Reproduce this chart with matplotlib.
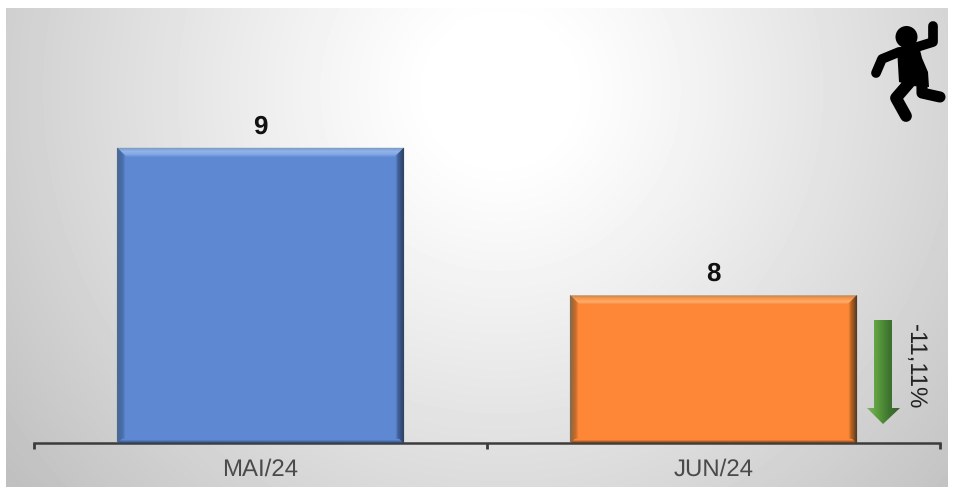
import numpy as np
import matplotlib
matplotlib.use('Agg')
import matplotlib.pyplot as plt
from matplotlib.colors import to_rgb, LinearSegmentedColormap
from matplotlib.patches import Polygon, Circle

plt.rcParams['font.family'] = ['Liberation Sans', 'DejaVu Sans']
plt.rcParams['text.hinting'] = 'none'
plt.rcParams['text.hinting_factor'] = 1

categories = ['MAI/24', 'JUN/24']
values = [9, 8]
variation_label = '-11,11%'
bar_colors = ['#5f88d2', '#fd8637']

W, H = 954, 492
fig = plt.figure(figsize=(W / 100, H / 100), dpi=100, facecolor='white')

# background panel, radial grey gradient
bg = fig.add_axes([0, 0, 1, 1], zorder=0)
xx, yy = np.meshgrid(np.arange(6, 948), np.arange(8, 487))
d = np.sqrt(((xx - 500) / 560) ** 2 + ((yy - 90) / 560) ** 2)
shade = 1 - 0.25 * np.clip(d - 0.12, 0, 1) ** 1.1
bg.imshow(shade, cmap='gray', vmin=0, vmax=1, extent=(6, 948, 487, 8), aspect='auto')
bg.set_xlim(0, W)
bg.set_ylim(H, 0)
bg.axis('off')

# the chart itself
ax = fig.add_axes([34 / W, 1 - 443 / H, 906 / W, 443 / H], zorder=1)
ax.patch.set_alpha(0)
x = np.arange(len(categories))
bars = ax.bar(x, values, width=0.633, color=bar_colors, zorder=2)
ax.set_xlim(-0.5, 1.5)
ax.set_ylim(7, 7 + 443 / 147.5)
ax.set_yticks([])
ax.set_xticks([-0.5, 0.5, 1.5])
ax.set_xticklabels([])
ax.tick_params(axis='x', length=4.5, width=2, color='#3c3c3c', direction='out')
for s in ['top', 'left', 'right']:
    ax.spines[s].set_visible(False)
ax.spines['bottom'].set_color('#3c3c3c')
ax.spines['bottom'].set_linewidth(1.8)
ax.spines['bottom'].set_zorder(5)

for i, c in enumerate(categories):
    ax.annotate(c, (x[i], 7), xytext=(0, -27), textcoords='offset pixels', ha='center', va='center',
                fontsize=17, color='#4a4a4a')
for i, v in enumerate(values):
    ax.annotate(str(v), (x[i], v), xytext=(0, 21), textcoords='offset pixels', ha='center', va='center',
                fontsize=19, fontweight='bold', color='#111111')

# overlay in pixel coordinates for bevels and decoration
top = fig.add_axes([0, 0, 1, 1], zorder=2)
top.patch.set_alpha(0)


def ramp(stops, n):
    # colours from outer edge of the bevel to the face of the bar
    rgb = np.array([to_rgb(c) for c in stops])
    pos = np.linspace(0, 1, len(stops))
    t = np.linspace(0, 1, n)
    return [tuple(np.interp(v, pos, rgb[:, k]) for k in range(3)) for v in t]


# top, left, right, bottom ramps
bevels = [(['#7f9cc8', '#8fb3ea', '#84a8e4', '#5f88d2'],
           ['#50688f', '#45699f', '#4a70ac', '#5f88d2'],
           ['#2f3f5c', '#34507f', '#3f5f96', '#5f88d2'],
           ['#34486c', '#4c70b0', '#5f88d2']),
          (['#c48a55', '#fd9a50', '#fcb070', '#fd8637'],
           ['#7c6a58', '#a9682f', '#c86e2c', '#fd8637'],
           ['#4a3626', '#8a5020', '#b5601f', '#fd8637'],
           ['#5a3e28', '#c46a28', '#fd8637'])]
fig.canvas.draw()
for bar, (r_top, r_left, r_right, r_bot) in zip(bars, bevels):
    (x0, y1), (x1, _) = ax.transData.transform([(bar.get_x(), bar.get_height()),
                                                (bar.get_x() + bar.get_width(), 7)])
    y0 = H - y1
    y2 = 443
    n = 10
    for k, c in enumerate(ramp(r_top, n)):
        top.add_patch(Polygon([(x0 + k, y0 + k), (x1 - k, y0 + k), (x1 - k - 1, y0 + k + 1), (x0 + k + 1, y0 + k + 1)],
                              fc=c, ec=c, lw=0.3))
    for k, c in enumerate(ramp(r_left, n - 1)):
        top.add_patch(Polygon([(x0 + k, y0 + k), (x0 + k + 1, y0 + k + 1), (x0 + k + 1, y2 - 1), (x0 + k, y2)],
                              fc=c, ec=c, lw=0.3))
    for k, c in enumerate(ramp(r_right, n - 1)):
        top.add_patch(Polygon([(x1 - k, y0 + k), (x1 - k - 1, y0 + k + 1), (x1 - k - 1, y2 - 1), (x1 - k, y2)],
                              fc=c, ec=c, lw=0.3))
    for k, c in enumerate(ramp(r_bot, 4)):
        top.add_patch(Polygon([(x0 + k + 1, y2 - k), (x1 - k - 1, y2 - k), (x1 - k - 2, y2 - k - 1), (x0 + k + 2, y2 - k - 1)],
                              fc=c, ec=c, lw=0.3))

# green arrow with side to side gradient
arrow = Polygon([(874, 320), (892, 320), (892, 408), (900, 408), (883, 424), (867, 408), (874, 408)],
                fc='none', ec='none')
top.add_patch(arrow)
grad = np.linspace(0, 1, 34).reshape(1, -1)
cm = LinearSegmentedColormap.from_list('g', ['#7ab55c', '#5a9a3c', '#3f7530', '#37622a'])
im = top.imshow(grad, cmap=cm, extent=(867, 900, 424, 320), aspect='auto', zorder=3)
im.set_clip_path(arrow)

top.text(915, 367, variation_label, rotation=270, ha='center', va='center', fontsize=17, color='#222222')

# running person icon
top.add_patch(Circle((906.5, 37), 11, fc='black', ec='none'))
top.add_patch(Polygon([(897, 48), (918, 42), (922, 58), (928, 72), (929, 87), (912, 86), (899, 82)],
                      fc='black', ec='none'))
kw = dict(color='black', solid_capstyle='round', solid_joinstyle='round')
top.plot([917, 933, 933], [47, 42, 26], lw=7, **kw)
top.plot([899, 882, 876], [52, 59, 73], lw=7, **kw)
top.plot([909, 896, 906], [83, 98, 116], lw=8.5, **kw)
top.plot([922, 922, 940], [83, 93, 97], lw=8, **kw)

top.set_xlim(0, W)
top.set_ylim(H, 0)
top.axis('off')

fig.savefig('out.png', dpi=100)
